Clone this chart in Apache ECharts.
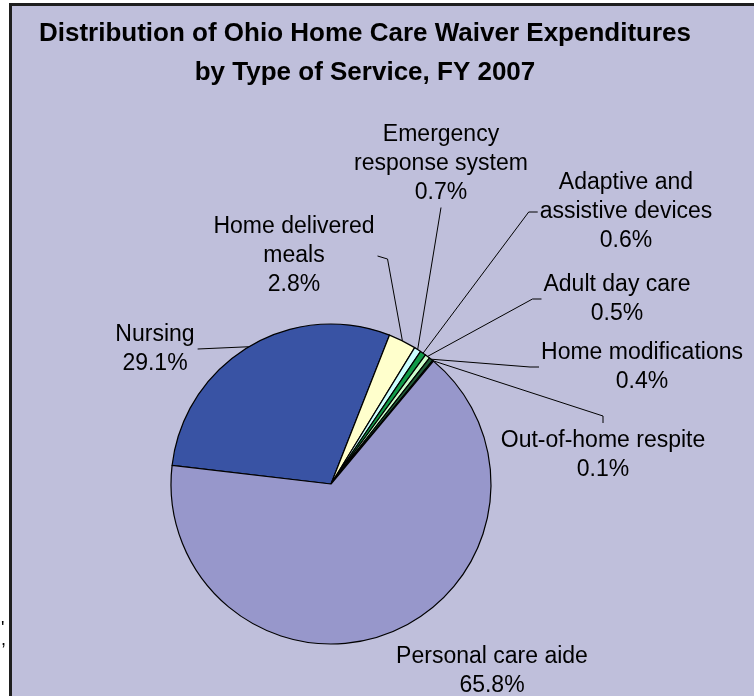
<!DOCTYPE html>
<html>
<head>
<meta charset="utf-8">
<script src="https://cdn.jsdelivr.net/npm/echarts@6/dist/echarts.min.js"></script>
<style>
  html, body { margin: 0; padding: 0; background: #ffffff; }
  #chart { width: 754px; height: 696px; }
</style>
</head>
<body>
<div id="chart"></div>
<script>
// slices, clockwise from the Nursing slice's lower edge
const categories = [
  "Nursing",
  "Home delivered\nmeals",
  "Emergency\nresponse system",
  "Adaptive and\nassistive devices",
  "Adult day care",
  "Home modifications",
  "Out-of-home respite",
  "Personal care aide",
];
const shares = [29.1, 2.8, 0.7, 0.6, 0.5, 0.4, 0.1, 65.8];
const colors = ["#3953a4", "#ffffcc", "#ccffff", "#109a48", "#ccffcc", "#1f5a36", "#2d6e4e", "#9797cb"];

// label centre positions (px) and which side of the label the leader line meets
const labelPos = [
  [155, 349],
  [294, 256],
  [441, 164],
  [626, 212],
  [617, 299],
  [642, 367],
  [603, 455],
  [492, 671],
];
const lineSide = ["right", "right", "bottom", "left", "left", "left", "top", null];

const pieCenter = [331, 484];
const pieRadius = 160;
const pieStart = 173.3;

const total = shares.reduce((a, b) => a + b, 0);

// point on the rim at the middle of slice i
const rimPoint = (i) => {
  let before = 0;
  for (let k = 0; k < i; k++) before += shares[k];
  const mid = pieStart - ((before + shares[i] / 2) / total) * 360;
  const rad = (mid * Math.PI) / 180;
  return [pieCenter[0] + pieRadius * Math.cos(rad), pieCenter[1] - pieRadius * Math.sin(rad)];
};

const chart = echarts.init(document.getElementById("chart"));

const option = {
  animation: false,
  textStyle: { fontFamily: "Liberation Sans, Arial, sans-serif" },
  title: {
    text: "Distribution of Ohio Home Care Waiver Expenditures\nby Type of Service, FY 2007",
    left: 360,
    top: 9,
    textAlign: "center",
    textStyle: {
      fontFamily: "Liberation Sans, Arial, sans-serif",
      fontSize: 26,
      fontWeight: "bold",
      color: "#000",
      lineHeight: 39,
    },
  },
  graphic: [
    {
      type: "rect",
      z: -10,
      shape: { x: 10.5, y: 4.5, width: 760, height: 720 },
      style: { fill: "#bfbfdb", stroke: "#1e1e1e", lineWidth: 3 },
    },
    {
      type: "text",
      left: 1,
      top: 620,
      style: { text: "'\n,", font: "18px Liberation Sans", lineHeight: 11, fill: "#000" },
    },
  ],
  series: [
    {
      type: "pie",
      center: pieCenter,
      radius: pieRadius,
      startAngle: pieStart,
      clockwise: true,
      avoidLabelOverlap: false,
      itemStyle: { borderColor: "#000", borderWidth: 1.2 },
      label: {
        show: true,
        formatter: "{b}\n{c}%",
        fontSize: 23,
        lineHeight: 29,
        color: "#000",
        align: "center",
        fontFamily: "Liberation Sans, Arial, sans-serif",
      },
      labelLine: {
        show: true,
        lineStyle: { color: "#000", width: 1 },
      },
      labelLayout: function (params) {
        const i = params.dataIndex;
        const p = labelPos[i];
        const out = { x: p[0], y: p[1], align: "center", verticalAlign: "middle" };
        const side = lineSide[i];
        if (!side) return out;
        const w = params.labelRect.width;
        const h = params.labelRect.height;
        const rim = rimPoint(i);
        let anchor, elbow;
        if (side === "right") {
          anchor = [p[0] + w / 2 + 3, p[1]];
          elbow = i === 0 ? anchor : [anchor[0] + 10, anchor[1] + 3];
        } else if (side === "left") {
          anchor = [p[0] - w / 2 - 2, p[1]];
          elbow = [anchor[0] - 9, anchor[1]];
        } else if (side === "bottom") {
          anchor = [p[0], p[1] + h / 2];
          elbow = anchor;
        } else {
          anchor = [p[0], p[1] - h / 2 - 3];
          elbow = [anchor[0], anchor[1] - 7];
        }
        out.labelLinePoints = [rim, elbow, anchor];
        return out;
      },
      emphasis: { disabled: true },
      data: categories.map((name, i) => ({
        name: name,
        value: shares[i],
        itemStyle: { color: colors[i] },
        labelLine: { show: lineSide[i] !== null },
      })),
    },
  ],
};

chart.setOption(option);
</script>
</body>
</html>
